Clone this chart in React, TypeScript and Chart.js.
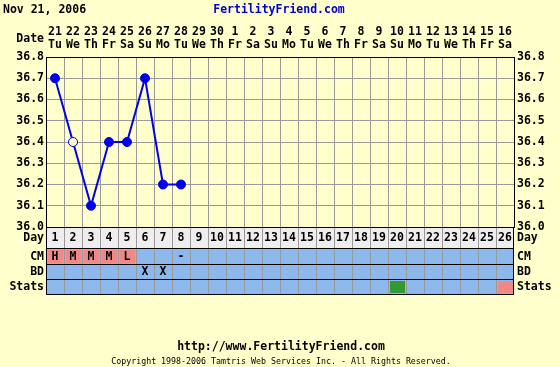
import React, { useEffect, useRef } from 'react';
import { Chart, registerables } from 'chart.js';

Chart.register(...registerables);

const headerDate = 'Nov 21, 2006';
const siteTitle = 'FertilityFriend.com';
const footerUrl = 'http://www.FertilityFriend.com';
const copyright = 'Copyright 1998-2006 Tamtris Web Services Inc. - All Rights Reserved.';

const cycleDays = ['1', '2', '3', '4', '5', '6', '7', '8', '9', '10', '11', '12', '13', '14', '15', '16', '17', '18', '19', '20', '21', '22', '23', '24', '25', '26'];
const dates = ['21', '22', '23', '24', '25', '26', '27', '28', '29', '30', '1', '2', '3', '4', '5', '6', '7', '8', '9', '10', '11', '12', '13', '14', '15', '16'];
const weekdays = ['Tu', 'We', 'Th', 'Fr', 'Sa', 'Su', 'Mo', 'Tu', 'We', 'Th', 'Fr', 'Sa', 'Su', 'Mo', 'Tu', 'We', 'Th', 'Fr', 'Sa', 'Su', 'Mo', 'Tu', 'We', 'Th', 'Fr', 'Sa'];
const temps: (number | null)[] = [36.7, 36.4, 36.1, 36.4, 36.4, 36.7, 36.2, 36.2, null, null, null, null, null, null, null, null, null, null, null, null, null, null, null, null, null, null];
const openPoints = [false, true, false, false, false, false, false, false];
const cmValues = ['H', 'M', 'M', 'M', 'L', '', '', '-', '', '', '', '', '', '', '', '', '', '', '', '', '', '', '', '', '', ''];
const cmMarked = [true, true, true, true, true];
const bdValues = ['', '', '', '', '', 'X', 'X', '', '', '', '', '', '', '', '', '', '', '', '', '', '', '', '', '', '', ''];
const statsMarks: Record<number, string> = { 19: '#339933', 25: '#F08888' };
const yTicks = [36.0, 36.1, 36.2, 36.3, 36.4, 36.5, 36.6, 36.7, 36.8];
const rowLabels = ['Day', 'CM', 'BD', 'Stats'];

const FONT = '"DejaVu Sans Mono", monospace';
const BG = '#FFFFCC';
const BLUE_ROW = '#8CB8EC';
const PINK = '#F08888';
const GRID = '#999999';
const LINE = '#0000EE';

const decorPlugin = {
  id: 'decor',
  beforeDatasetsDraw(chart: any) {
    const { ctx, chartArea } = chart;
    ctx.save();
    ctx.strokeStyle = '#000';
    ctx.lineWidth = 1;
    ctx.beginPath();
    ctx.moveTo(chartArea.left, Math.round(chartArea.top) + 0.5);
    ctx.lineTo(chartArea.right, Math.round(chartArea.top) + 0.5);
    ctx.stroke();
    ctx.restore();
  },
  afterDraw(chart: any) {
    const { ctx, chartArea, scales } = chart;
    const xs = scales.x;
    const n = cycleDays.length;
    const colW = (chartArea.right - chartArea.left) / n;
    const top = chartArea.bottom;
    const rows = [top, top + 21, top + 37, top + 52, top + 67];
    ctx.save();

    // header
    ctx.textBaseline = 'middle';
    ctx.font = `bold 11.5px ${FONT}`;
    ctx.fillStyle = '#000';
    ctx.textAlign = 'left';
    ctx.fillText(headerDate, 3, 10);
    ctx.fillStyle = '#0000CC';
    ctx.textAlign = 'center';
    ctx.fillText(siteTitle, 279, 10);

    // date header
    ctx.fillStyle = '#000';
    ctx.textAlign = 'right';
    ctx.fillText('Date', chartArea.left - 2, 39);
    ctx.textAlign = 'center';
    for (let i = 0; i < n; i++) {
      const cx = xs.getPixelForValue(i);
      ctx.fillText(dates[i], cx, 32);
      ctx.fillText(weekdays[i], cx, 45);
    }

    // table rows
    const L = chartArea.left;
    const R = chartArea.right;
    ctx.fillStyle = '#EEEEEE';
    ctx.fillRect(L, rows[0], R - L, rows[1] - rows[0]);
    ctx.fillStyle = BLUE_ROW;
    ctx.fillRect(L, rows[1], R - L, rows[4] - rows[1]);

    for (let i = 0; i < n; i++) {
      const x0 = xs.getPixelForValue(i) - colW / 2;
      if (cmMarked[i]) {
        ctx.fillStyle = PINK;
        ctx.fillRect(x0 + 2, rows[1] + 2, colW - 3, rows[2] - rows[1] - 3);
      }
      if (statsMarks[i]) {
        ctx.fillStyle = statsMarks[i];
        ctx.fillRect(x0 + 2, rows[3] + 2, colW - 3, rows[4] - rows[3] - 3);
      }
    }

    // vertical grid lines in table
    ctx.strokeStyle = GRID;
    ctx.lineWidth = 1;
    for (let i = 1; i < n; i++) {
      const x = Math.round(xs.getPixelForValue(i) - colW / 2) + 0.5;
      ctx.beginPath();
      ctx.moveTo(x, rows[0]);
      ctx.lineTo(x, rows[4]);
      ctx.stroke();
    }
    // horizontal lines
    ctx.strokeStyle = '#000';
    for (let r = 0; r < rows.length; r++) {
      const y = Math.round(rows[r]) + 0.5;
      ctx.beginPath();
      ctx.moveTo(L, y);
      ctx.lineTo(R, y);
      ctx.stroke();
    }
    ctx.beginPath();
    ctx.moveTo(Math.round(L) + 0.5, rows[0]);
    ctx.lineTo(Math.round(L) + 0.5, rows[4]);
    ctx.moveTo(Math.round(R) - 0.5, rows[0]);
    ctx.lineTo(Math.round(R) - 0.5, rows[4]);
    ctx.stroke();

    // table text
    ctx.fillStyle = '#000';
    ctx.font = `bold 11.5px ${FONT}`;
    ctx.textAlign = 'center';
    for (let i = 0; i < n; i++) {
      const cx = xs.getPixelForValue(i);
      ctx.fillText(cycleDays[i], cx, (rows[0] + rows[1]) / 2 + 1);
      if (cmValues[i]) ctx.fillText(cmValues[i], cx, (rows[1] + rows[2]) / 2 + 1);
      if (bdValues[i]) ctx.fillText(bdValues[i], cx, (rows[2] + rows[3]) / 2 + 1);
    }
    for (let r = 0; r < rowLabels.length; r++) {
      const cy = (rows[r] + rows[r + 1]) / 2 + 1;
      ctx.textAlign = 'right';
      ctx.fillText(rowLabels[r], L - 2, cy);
      ctx.textAlign = 'left';
      ctx.fillText(rowLabels[r], R + 3, cy);
    }

    // footer
    ctx.textAlign = 'center';
    ctx.font = `bold 11.5px ${FONT}`;
    ctx.fillText(footerUrl, 281, 347);
    ctx.font = `8.3px ${FONT}`;
    ctx.fillText(copyright, 281, 362);
    ctx.restore();
  },
};

const bgPlugin = {
  id: 'bg',
  beforeDraw(chart: any) {
    const { ctx, width, height } = chart;
    ctx.save();
    ctx.fillStyle = BG;
    ctx.fillRect(0, 0, width, height);
    ctx.restore();
  },
};

const tickFont = { family: FONT, size: 11.5, weight: 'bold' as const };

export default function App() {
  const ref = useRef<HTMLCanvasElement | null>(null);
  useEffect(() => {
    document.body.style.margin = '0';
    const canvas = ref.current;
    if (!canvas) return;
    const chart = new Chart(canvas, {
      type: 'line',
      data: {
        labels: cycleDays,
        datasets: [
          {
            data: temps,
            borderColor: LINE,
            borderWidth: 2,
            pointRadius: 4.5,
            pointBorderWidth: 1,
            pointBackgroundColor: (c: any) => (openPoints[c.dataIndex] ? BG : LINE),
            pointBorderColor: LINE,
            spanGaps: false,
            tension: 0,
          } as any,
        ],
      },
      options: {
        responsive: false,
        animation: false,
        devicePixelRatio: 1,
        layout: { padding: { top: 57, bottom: 140, left: 0, right: 0 } },
        plugins: { legend: { display: false }, tooltip: { enabled: false } },
        scales: {
          x: {
            type: 'category',
            offset: true,
            grid: { offset: true, color: GRID, drawTicks: false },
            border: { display: true, color: '#000' },
            ticks: { display: false },
            afterFit: (s: any) => {
              s.height = 0;
            },
          },
          y: {
            position: 'left',
            min: 36,
            max: 36.8,
            afterBuildTicks: (s: any) => {
              s.ticks = yTicks.map((v) => ({ value: v }));
            },
            ticks: {
              callback: (v: any) => Number(v).toFixed(1),
              font: tickFont,
              color: '#000',
              padding: 2,
            },
            grid: { color: GRID, drawTicks: false },
            border: { color: '#000' },
            afterFit: (s: any) => {
              s.width = 46;
            },
          },
          y2: {
            position: 'right',
            min: 36,
            max: 36.8,
            afterBuildTicks: (s: any) => {
              s.ticks = yTicks.map((v) => ({ value: v }));
            },
            ticks: {
              callback: (v: any) => Number(v).toFixed(1),
              font: tickFont,
              color: '#000',
              padding: 3,
            },
            grid: { display: false, drawTicks: false },
            border: { color: '#000' },
            afterFit: (s: any) => {
              s.width = 46;
            },
          },
        },
      } as any,
      plugins: [bgPlugin, decorPlugin],
    });
    return () => chart.destroy();
  }, []);
  return (
    <div style={{ position: 'absolute', left: 0, top: 0, width: 560, height: 367 }}>
      <canvas ref={ref} width={560} height={367} style={{ width: 560, height: 367, display: 'block' }} />
    </div>
  );
}
